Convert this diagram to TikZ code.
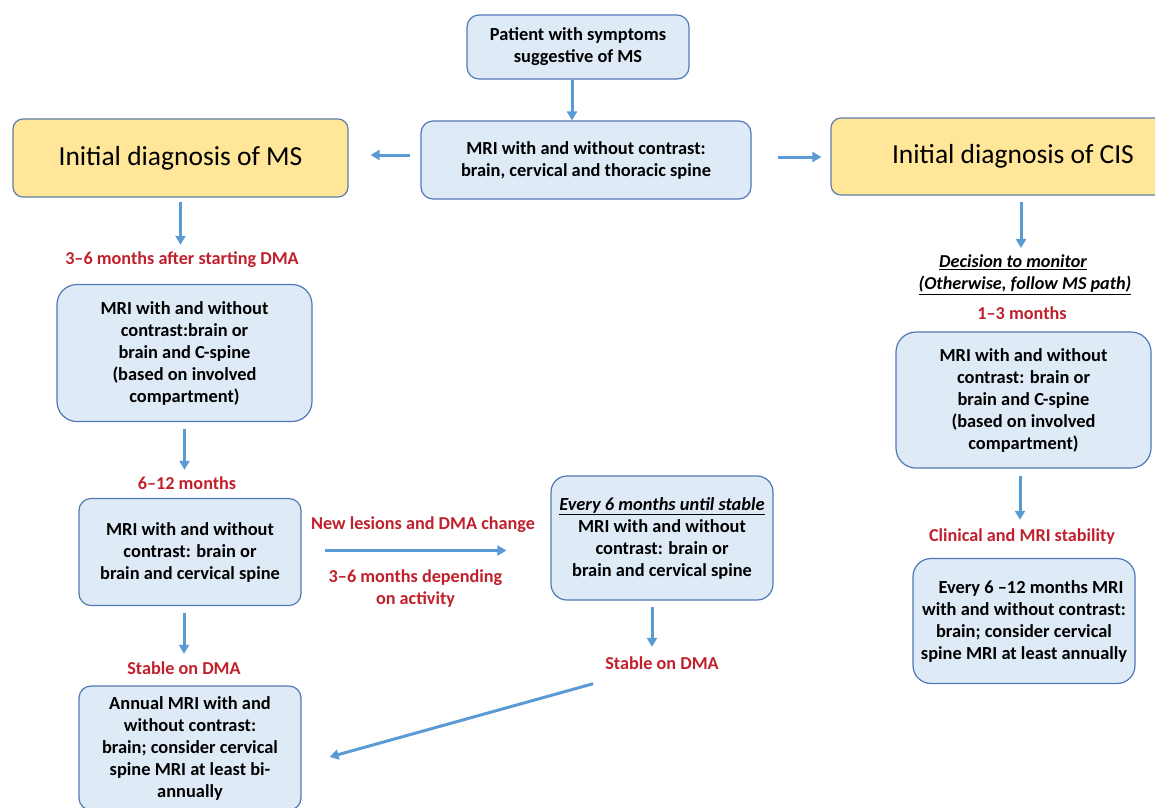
\documentclass[tikz,border=0pt]{standalone}
\usepackage{fontspec}
\setmainfont{Carlito}
\usetikzlibrary{positioning,arrows.meta,calc}

\definecolor{boxfill}{RGB}{222,235,247}
\definecolor{boxline}{RGB}{80,120,185}
\definecolor{diagfill}{RGB}{255,230,153}
\definecolor{diagline}{RGB}{95,125,165}
\definecolor{arrowblue}{RGB}{91,155,213}
\definecolor{labelred}{RGB}{192,32,44}

\begin{document}
\begin{tikzpicture}[
    x=1pt, y=-1pt,
    line/.style={-{Triangle[width=10pt,length=9pt]}, line width=3pt, draw=arrowblue},
    stage/.style={
        draw=boxline, fill=boxfill, line width=1.2pt,
        rounded corners=12pt,
        align=center, inner sep=0pt,
        font=\fontsize{18.4}{22}\selectfont\bfseries
    },
    diag/.style={
        draw=diagline, fill=diagfill, line width=1.2pt,
        rounded corners=10pt,
        align=center, inner sep=0pt,
        font=\fontsize{27.5}{32}\selectfont
    },
    note/.style={
        text=labelred, align=center, inner sep=1pt,
        text height=13pt, text depth=4pt,
        font=\fontsize{18.2}{22}\selectfont\bfseries
    },
    decide/.style={
        align=center, inner sep=1pt,
        font=\fontsize{18.2}{22}\selectfont\bfseries\itshape
    }
]
\useasboundingbox (0,0) rectangle (1155,807);

% Top of the chart
\node[stage, minimum width=222pt, minimum height=64pt] (patient) at (578,47) {Patient with symptoms\\suggestive of MS};
\node[stage, minimum width=330pt, minimum height=78pt] (mri0) at (586,160) {MRI with and without contrast:\\brain, cervical and thoracic spine};
\node[diag, minimum width=335pt, minimum height=78pt] (ms) at (180.5,158) {Initial diagnosis of MS};
\node[diag, minimum width=364pt, minimum height=77pt] (cis) at (1013,156.5) {Initial diagnosis of CIS};

% MS path
\node[note] (lblA) at (182,260) {3–6 months after starting DMA};
\node[stage, rounded corners=20pt, minimum width=255pt, minimum height=137pt] (msbox1) at (184.5,353) {MRI with and without\\contrast:brain or\\brain and C-spine\\(based on involved\\compartment)};
\node[note] (lblB) at (187,485) {6–12 months};
\node[stage, minimum width=222pt, minimum height=107pt] (msbox2) at (190,552) {MRI with and without\\contrast: brain or\\brain and cervical spine};
\node[note] (lblC) at (184,670) {Stable on DMA};
\node[stage, minimum width=222pt, minimum height=124pt] (msbox3) at (190,748) {Annual MRI with and\\without contrast:\\brain; consider cervical\\spine MRI at least bi-\\annually};

% Active disease branch
\node[note] (lblD) at (423,525) {New lesions and DMA change};
\node[note, text height=, text depth=] (lblE) at (415.5,588.5) {3–6 months depending\\on activity};
\node[stage, rounded corners=16pt, minimum width=222pt, minimum height=124pt] (every6) at (662,538) {\underline{\textit{Every 6 months until stable}}\\MRI with and without\\contrast: brain or\\brain and cervical spine};
\node[note] (lblF) at (662,665) {Stable on DMA};

% CIS path
\node[decide] (lblG) at (1025,275) {\underline{Decision to monitor}\hspace*{24pt}\\\underline{(Otherwise, follow MS path)}};
\node[note] (lblH) at (1022,315) {1–3 months};
\node[stage, rounded corners=20pt, minimum width=255pt, minimum height=136pt] (cisbox1) at (1023.5,400) {MRI with and without\\contrast: brain or\\brain and C-spine\\(based on involved\\compartment)};
\node[note] (lblI) at (1022,537) {Clinical and MRI stability};
\node[stage, rounded corners=18pt, minimum width=222pt, minimum height=125pt] (cisbox2) at (1024,621) {\hspace*{14pt}Every 6 –12 months MRI\\with and without contrast:\\brain; consider cervical\\spine MRI at least annually};

% Arrows
\draw[line] ([xshift=-6pt]patient.south) -- ([xshift=-14pt]mri0.north);
\draw[line, shorten <=10pt, shorten >=22pt] ([yshift=5pt]mri0.west) -- ([yshift=3pt]ms.east);
\draw[line, shorten <=26pt, shorten >=9pt] ([yshift=3pt]mri0.east) -- ([yshift=-0.5pt]cis.west);
\draw[line, shorten <=4pt, shorten >=5.5pt] (ms.south) -- (ms.south |- lblA.north);
\draw[line, shorten <=7pt, shorten >=5.5pt] (msbox1.south) -- (msbox1.south |- lblB.north);
\draw[line, shorten <=7pt, shorten >=6.5pt] ([xshift=-6pt]msbox2.south) -- ([xshift=-6pt]msbox2.south |- lblC.north);
\draw[line, shorten <=23pt, shorten >=44pt] ([yshift=1.5pt]msbox2.east) -- ([yshift=1.5pt]msbox2.east -| every6.west);
\draw[line, shorten <=6pt, shorten >=8.5pt] ([xshift=-10pt]every6.south) -- ([xshift=-10pt]every6.south |- lblF.north);
\draw[line] ([xshift=-11pt,yshift=-9pt]lblF.south west) -- ([xshift=28pt,yshift=-9pt]msbox3.east);
\draw[line, shorten <=6pt, shorten >=6pt] ([xshift=8pt]cis.south) -- ([xshift=8pt]cis.south |- lblG.north);
\draw[line, shorten <=7pt, shorten >=7.5pt] ([xshift=-3.5pt]cisbox1.south) -- ([xshift=-3.5pt]cisbox1.south |- lblI.north);

\end{tikzpicture}
\end{document}
